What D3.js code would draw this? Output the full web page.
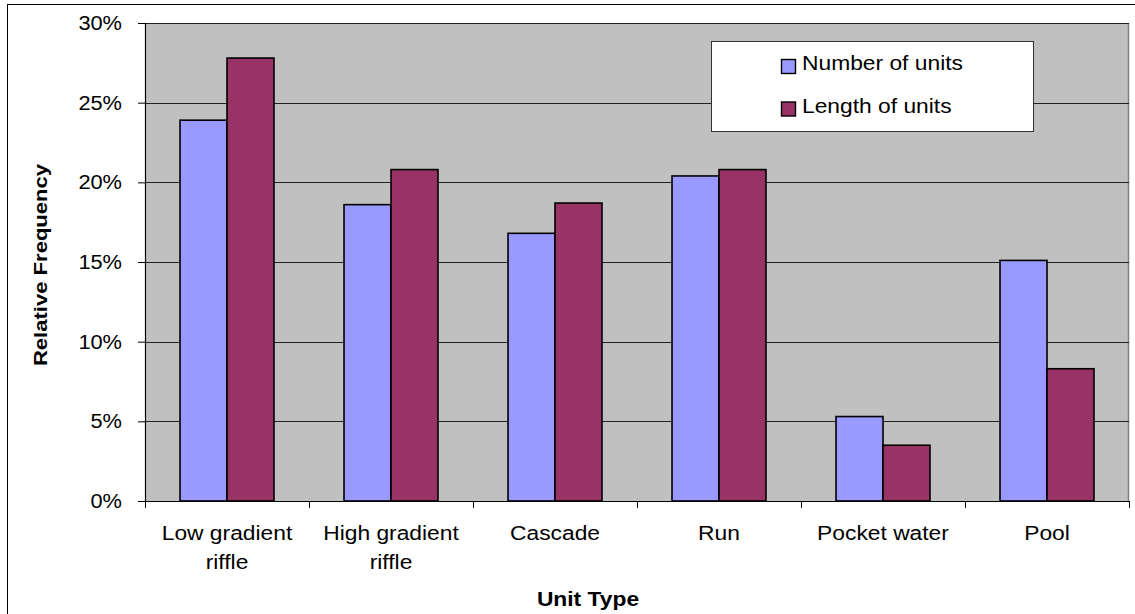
<!DOCTYPE html>
<html>
<head>
<meta charset="utf-8">
<script src="https://cdn.jsdelivr.net/npm/d3@7"></script>
<style>
  html, body { margin: 0; padding: 0; background: #fff; }
  svg { display: block; }
  text { font-family: "Liberation Sans", Arial, sans-serif; fill: #000; }
</style>
</head>
<body>
<svg id="chart" width="1135" height="614"></svg>
<script>
// Habitat unit types and their relative frequencies
const categories = [["Low gradient", "riffle"], ["High gradient", "riffle"], ["Cascade"], ["Run"], ["Pocket water"], ["Pool"]];
const seriesNames = ["Number of units", "Length of units"];
const numberOfUnits = [0.239, 0.186, 0.168, 0.204, 0.053, 0.151];
const lengthOfUnits = [0.278, 0.208, 0.187, 0.208, 0.035, 0.083];
const yTicks = [0, 0.05, 0.10, 0.15, 0.20, 0.25, 0.30];
const colors = ["#9999FF", "#993366"];

const svg = d3.select("#chart");
const W = 1135, H = 614;
const plot = { left: 145, right: 1129, top: 23, bottom: 501 };
const stretch = 1.14;

// widen glyphs slightly, keeping anchors
function widen(sel, factor) {
  sel.each(function () {
    const w = this.getComputedTextLength();
    d3.select(this).attr("textLength", w * factor).attr("lengthAdjust", "spacingAndGlyphs");
  });
}

// outer chart frame
svg.append("rect")
  .attr("x", 7.5).attr("y", 4.5)
  .attr("width", W + 20).attr("height", H + 20)
  .attr("fill", "#fff").attr("stroke", "#000").attr("stroke-width", 1);

const keys = categories.map(c => c.join(" "));
const x0 = d3.scaleBand().domain(keys).range([plot.left, plot.right])
  .paddingInner(0.427).paddingOuter(0.2135);
const x1 = d3.scaleBand().domain(seriesNames).range([0, x0.bandwidth()]);
const y = d3.scaleLinear().domain([0, 0.30]).range([plot.bottom, plot.top]);

// plot area
svg.append("rect")
  .attr("x", plot.left).attr("y", plot.top)
  .attr("width", plot.right - plot.left).attr("height", plot.bottom - plot.top)
  .attr("fill", "#C0C0C0");
svg.append("line")
  .attr("x1", plot.right - 0.5).attr("x2", plot.right - 0.5)
  .attr("y1", plot.top).attr("y2", plot.bottom)
  .attr("stroke", "#808080").attr("stroke-width", 1.5);

// gridlines
svg.append("g").selectAll("line").data(yTicks.slice(1)).join("line")
  .attr("x1", plot.left).attr("x2", plot.right)
  .attr("y1", d => Math.round(y(d)) + 0.5).attr("y2", d => Math.round(y(d)) + 0.5)
  .attr("stroke", "#222").attr("stroke-width", 1);

// bars
const rows = keys.map((k, i) => ({ key: k, values: [numberOfUnits[i], lengthOfUnits[i]] }));
const groups = svg.append("g").selectAll("g").data(rows).join("g")
  .attr("transform", d => `translate(${x0(d.key)},0)`);
groups.selectAll("rect").data(d => d.values.map((v, j) => ({ v, s: seriesNames[j], j }))).join("rect")
  .attr("x", d => x1(d.s))
  .attr("y", d => y(d.v))
  .attr("width", x1.bandwidth())
  .attr("height", d => y(0) - y(d.v))
  .attr("fill", d => colors[d.j])
  .attr("stroke", "#000").attr("stroke-width", 1.6);

// y axis
const yAxis = svg.append("g")
  .attr("transform", `translate(${plot.left},0)`)
  .call(d3.axisLeft(y).tickValues(yTicks).tickFormat(d3.format(".0%")).tickSize(7).tickPadding(16));
yAxis.select(".domain").attr("stroke", "#000").attr("stroke-width", 1.2);
yAxis.selectAll(".tick line").attr("stroke", "#000");
yAxis.selectAll("text").style("font-size", "20px").attr("fill", "#000").attr("font-family", null);
widen(yAxis.selectAll("text"), 1.09);

// x axis baseline and category boundary ticks
const step = x0.step();
const gap = step - x0.bandwidth();
const bounds = keys.map(k => x0(k) - gap / 2).concat([x0(keys[keys.length - 1]) + x0.bandwidth() + gap / 2]);
svg.append("line")
  .attr("x1", plot.left).attr("x2", plot.right)
  .attr("y1", plot.bottom + 0.5).attr("y2", plot.bottom + 0.5)
  .attr("stroke", "#000").attr("stroke-width", 1.2);
svg.append("g").selectAll("line").data(bounds).join("line")
  .attr("x1", d => Math.round(d) + 0.5).attr("x2", d => Math.round(d) + 0.5)
  .attr("y1", plot.bottom).attr("y2", plot.bottom + 7)
  .attr("stroke", "#000");

// category labels
const catLabels = svg.append("g").selectAll("text").data(categories).join("text")
  .attr("x", (d, i) => x0(keys[i]) + x0.bandwidth() / 2)
  .attr("y", 540)
  .attr("text-anchor", "middle")
  .style("font-size", "20px");
catLabels.selectAll("tspan").data(d => d).join("tspan")
  .attr("x", function () { return this.parentNode.getAttribute("x"); })
  .attr("dy", (d, i) => i === 0 ? 0 : 29)
  .text(d => d);
catLabels.selectAll("tspan").each(function () {
  const w = this.getComputedTextLength();
  d3.select(this).attr("textLength", w * stretch).attr("lengthAdjust", "spacingAndGlyphs");
});

// axis titles
const xTitle = svg.append("text")
  .attr("x", 588).attr("y", 606)
  .attr("text-anchor", "middle")
  .style("font-size", "20px").style("font-weight", "bold")
  .text("Unit Type");
widen(xTitle, stretch);

const yTitle = svg.append("text")
  .attr("transform", "translate(47,265) rotate(-90)")
  .attr("text-anchor", "middle")
  .style("font-size", "19px").style("font-weight", "bold")
  .text("Relative Frequency");
widen(yTitle, 1.16);

// legend
const legend = svg.append("g");
legend.append("rect")
  .attr("x", 711.5).attr("y", 41.5).attr("width", 322).attr("height", 90)
  .attr("fill", "#fff").attr("stroke", "#333").attr("stroke-width", 1);
const items = legend.selectAll("g.item").data(seriesNames).join("g")
  .attr("class", "item")
  .attr("transform", (d, i) => `translate(0,${i * 42.5})`);
items.append("rect")
  .attr("x", 781.5).attr("y", 59.5).attr("width", 14).attr("height", 14)
  .attr("fill", (d, i) => colors[i]).attr("stroke", "#000").attr("stroke-width", 1.4);
const legText = items.append("text")
  .attr("x", 802).attr("y", 70)
  .style("font-size", "20px")
  .text(d => d);
widen(legText, stretch);
</script>
</body>
</html>
